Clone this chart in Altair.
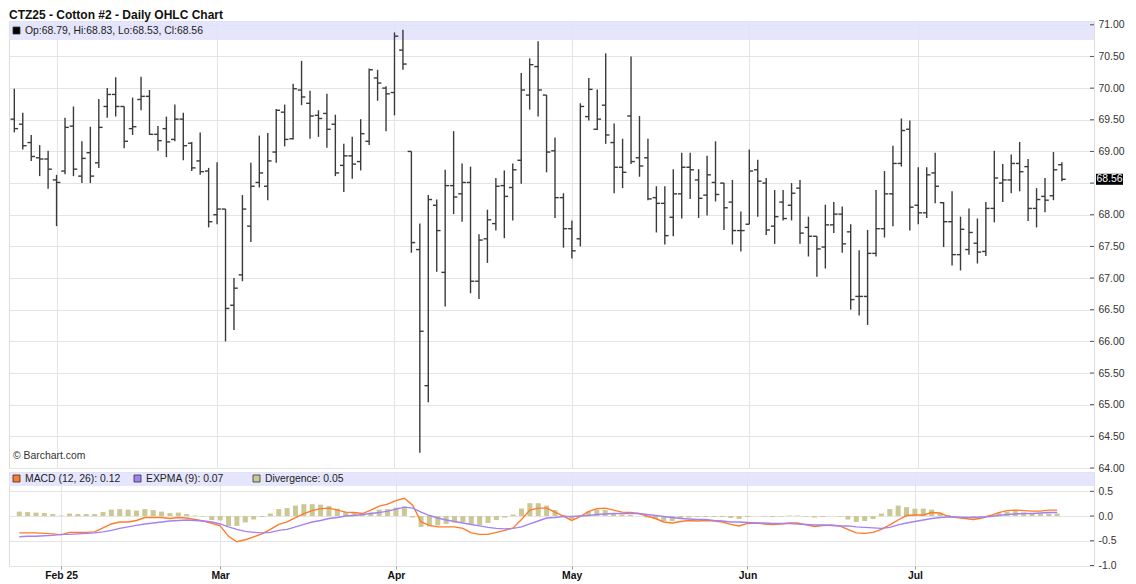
import altair as alt
import pandas as pd

FONT = "Liberation Sans"
title_text = "CTZ25 - Cotton #2 - Daily OHLC Chart"
source_text = "\u00a9 Barchart.com"

opens = [69.51, 69.43, 69.14, 68.90, 68.88, 68.55, 68.69, 69.40, 68.61, 68.98,
         68.82, 69.71, 69.90, 69.71, 69.36, 69.82, 69.87, 69.27, 69.36, 69.19,
         69.51, 69.13, 68.85, 68.69, 68.00, 68.09, 66.57, 67.05, 67.82, 68.51,
         68.45, 68.99, 69.62, 69.20, 69.97, 69.76, 69.57, 69.60, 69.43, 68.78,
         68.93, 68.84, 69.16, 70.16, 70.00, 69.93, 70.60, 69.00, 67.45, 65.30,
         68.15, 67.09, 68.46, 68.33, 68.51, 66.95, 67.62, 67.86, 68.46, 68.43,
         68.86, 69.89, 70.34, 69.89, 69.01, 68.27, 67.78, 67.62, 69.55, 69.35,
         69.73, 69.14, 68.75, 69.56, 68.90, 68.90, 68.27, 68.18, 67.96, 68.33,
         68.75, 68.55, 68.31, 68.51, 68.50, 68.20, 67.75, 67.85, 68.71, 68.50,
         67.82, 68.20, 68.15, 68.42, 67.80, 67.66, 67.49, 67.84, 68.01, 67.73,
         66.71, 66.71, 67.39, 67.78, 68.33, 68.81, 69.35, 68.15, 68.03, 68.66,
         68.19, 67.89, 67.37, 67.45, 67.55, 67.42, 68.10, 68.50, 68.55, 68.81,
         68.76, 68.10, 68.29, 68.30, 68.79]
highs = [69.99, 69.61, 69.26, 69.10, 69.01, 68.63, 69.53, 69.71, 69.16, 69.39,
         69.83, 70.00, 70.17, 69.71, 69.85, 70.18, 69.97, 69.40, 69.55, 69.74,
         69.61, 69.15, 69.30, 68.74, 68.83, 68.09, 67.00, 68.31, 68.82, 69.25,
         69.29, 69.67, 69.74, 70.07, 70.43, 69.96, 69.65, 69.91, 69.58, 69.12,
         69.23, 69.51, 70.31, 70.29, 70.03, 70.88, 70.92, 69.00, 67.86, 68.31,
         68.24, 68.71, 69.32, 68.81, 68.76, 67.69, 68.08, 68.58, 68.70, 68.81,
         70.24, 70.47, 70.74, 69.89, 69.22, 68.34, 67.91, 69.76, 70.16, 69.98,
         70.55, 69.44, 69.20, 70.50, 69.56, 69.20, 68.45, 68.45, 68.72, 68.98,
         68.98, 68.72, 68.93, 69.16, 68.50, 68.55, 68.05, 69.03, 68.87, 68.58,
         68.39, 68.39, 68.50, 68.55, 67.97, 67.66, 68.16, 68.20, 68.13, 67.85,
         67.44, 67.76, 68.39, 68.69, 69.09, 69.52, 69.49, 68.75, 68.75, 68.98,
         68.20, 68.37, 67.97, 68.10, 67.94, 68.20, 69.01, 68.80, 68.95, 69.15,
         68.88, 68.42, 68.58, 68.99, 68.83]
lows = [69.30, 69.03, 68.85, 68.61, 68.41, 67.82, 68.64, 68.61, 68.50, 68.50,
        68.74, 69.53, 69.55, 69.05, 69.26, 69.65, 69.26, 69.01, 68.91, 69.16,
        68.86, 68.69, 68.63, 67.80, 67.85, 66.00, 66.18, 66.95, 67.57, 68.43,
        68.23, 68.82, 69.08, 69.19, 69.73, 69.20, 69.23, 69.06, 68.61, 68.36,
        68.57, 68.70, 69.10, 69.80, 69.32, 69.57, 70.29, 67.40, 64.24, 65.04,
        67.10, 66.55, 68.01, 67.89, 66.76, 66.67, 67.24, 67.75, 67.63, 67.91,
        68.49, 69.66, 69.55, 68.67, 67.95, 67.48, 67.31, 67.50, 69.49, 69.34,
        69.12, 68.34, 68.42, 68.80, 68.60, 68.23, 67.72, 67.53, 67.66, 67.94,
        68.25, 67.95, 67.99, 68.21, 67.76, 67.53, 67.42, 67.85, 67.97, 67.68,
        67.54, 67.91, 67.91, 67.54, 67.34, 67.02, 67.15, 67.71, 67.40, 66.50,
        66.41, 66.26, 67.34, 67.64, 67.82, 68.76, 67.75, 67.85, 67.95, 68.18,
        67.49, 67.20, 67.12, 67.37, 67.23, 67.35, 67.88, 68.20, 68.34, 68.37,
        67.90, 67.80, 68.04, 68.23, 68.53]
closes = [69.36, 69.09, 68.92, 68.88, 68.72, 68.51, 69.38, 68.72, 68.89, 68.61,
          69.38, 69.90, 69.71, 69.16, 69.39, 69.87, 69.27, 69.17, 69.15, 69.51,
          69.09, 68.74, 68.68, 67.89, 68.09, 66.52, 66.84, 68.09, 68.45, 68.66,
          68.85, 69.65, 69.19, 69.99, 69.86, 69.56, 69.52, 69.35, 68.66, 68.93,
          68.80, 69.28, 70.29, 70.08, 69.91, 70.82, 70.38, 67.56, 66.16, 68.24,
          67.75, 68.46, 68.28, 68.51, 66.95, 67.60, 67.92, 68.45, 68.29, 68.71,
          69.97, 70.37, 69.97, 68.99, 68.27, 67.78, 67.43, 69.71, 69.98, 69.51,
          69.26, 68.75, 68.67, 68.84, 68.77, 68.25, 68.18, 67.67, 68.33, 68.75,
          68.71, 68.26, 68.63, 68.32, 68.11, 67.75, 67.75, 68.69, 68.53, 67.76,
          67.97, 67.94, 68.34, 67.71, 67.66, 67.46, 67.84, 68.01, 67.54, 66.66,
          66.71, 67.39, 67.78, 68.33, 68.81, 69.33, 68.12, 68.03, 68.63, 68.45,
          67.89, 67.37, 67.77, 67.72, 67.41, 68.10, 68.58, 68.55, 68.81, 68.68,
          68.10, 68.24, 68.23, 68.71, 68.56]

macd = [-0.34, -0.34, -0.34, -0.35, -0.36, -0.38, -0.33, -0.33, -0.33, -0.32,
        -0.24, -0.16, -0.12, -0.12, -0.09, -0.03, -0.03, -0.03, -0.05, -0.03,
        -0.04, -0.07, -0.10, -0.15, -0.20, -0.41, -0.52, -0.48, -0.42, -0.36,
        -0.27, -0.17, -0.12, -0.03, 0.05, 0.11, 0.15, 0.16, 0.12, 0.08,
        0.07, 0.05, 0.12, 0.20, 0.24, 0.31, 0.36, 0.22, -0.12, -0.19,
        -0.22, -0.22, -0.22, -0.25, -0.34, -0.37, -0.37, -0.33, -0.29, -0.24,
        -0.07, 0.12, 0.16, 0.16, 0.08, 0.00, -0.09, -0.01, 0.09, 0.15,
        0.16, 0.12, 0.08, 0.07, 0.05, 0.00, -0.05, -0.12, -0.14, -0.11,
        -0.09, -0.10, -0.09, -0.10, -0.12, -0.17, -0.20, -0.15, -0.14, -0.16,
        -0.17, -0.16, -0.14, -0.14, -0.18, -0.21, -0.19, -0.18, -0.20, -0.27,
        -0.34, -0.35, -0.33, -0.27, -0.18, -0.08, 0.01, 0.02, 0.02, 0.07,
        0.06, -0.01, -0.03, -0.05, -0.07, -0.04, 0.01, 0.07, 0.11, 0.12,
        0.11, 0.10, 0.10, 0.12, 0.12]
expma = [-0.42, -0.41, -0.41, -0.40, -0.39, -0.37, -0.37, -0.36, -0.35, -0.34,
         -0.32, -0.29, -0.25, -0.22, -0.19, -0.16, -0.14, -0.12, -0.10, -0.09,
         -0.08, -0.09, -0.10, -0.12, -0.16, -0.22, -0.27, -0.31, -0.33, -0.34,
         -0.33, -0.29, -0.27, -0.22, -0.17, -0.12, -0.09, -0.05, -0.03, 0.00,
         0.01, 0.03, 0.05, 0.07, 0.10, 0.14, 0.18, 0.16, 0.08, 0.01,
         -0.04, -0.08, -0.11, -0.14, -0.17, -0.20, -0.23, -0.25, -0.26, -0.25,
         -0.22, -0.16, -0.10, -0.04, -0.03, -0.01, -0.01, 0.00, 0.01, 0.03,
         0.04, 0.05, 0.05, 0.05, 0.05, 0.03, 0.01, -0.01, -0.03, -0.05,
         -0.06, -0.07, -0.07, -0.09, -0.10, -0.12, -0.12, -0.13, -0.14, -0.14,
         -0.15, -0.15, -0.15, -0.16, -0.17, -0.18, -0.18, -0.19, -0.20, -0.20,
         -0.22, -0.23, -0.24, -0.25, -0.23, -0.18, -0.14, -0.11, -0.08, -0.05,
         -0.03, -0.02, -0.02, -0.03, -0.03, -0.02, -0.01, 0.01, 0.03, 0.04,
         0.05, 0.05, 0.06, 0.07, 0.07]
divergence = [0.09, 0.08, 0.07, 0.06, 0.04, 0.01, 0.05, 0.04, 0.04, 0.04,
              0.08, 0.13, 0.14, 0.13, 0.11, 0.14, 0.12, 0.09, 0.06, 0.07,
              0.04, 0.01, -0.01, -0.08, -0.09, -0.20, -0.20, -0.13, -0.07, -0.02,
              0.05, 0.14, 0.16, 0.21, 0.24, 0.24, 0.23, 0.20, 0.15, 0.08,
              0.06, 0.03, 0.07, 0.13, 0.14, 0.17, 0.19, -0.03, -0.22, -0.21,
              -0.19, -0.16, -0.13, -0.12, -0.16, -0.18, -0.14, -0.08, -0.03, 0.03,
              0.15, 0.26, 0.26, 0.21, 0.12, 0.02, -0.06, 0.01, 0.09, 0.13,
              0.12, 0.06, 0.03, 0.02, 0.00, -0.03, -0.06, -0.10, -0.10, -0.06,
              -0.03, -0.02, -0.02, -0.02, -0.02, -0.04, -0.06, -0.02, 0.00, -0.01,
              -0.02, -0.01, 0.01, 0.01, -0.01, -0.03, -0.02, 0.00, -0.01, -0.07,
              -0.12, -0.10, -0.06, 0.05, 0.14, 0.21, 0.18, 0.15, 0.15, 0.13,
              0.06, 0.02, 0.00, -0.01, -0.02, -0.01, 0.02, 0.06, 0.09, 0.10,
              0.07, 0.05, 0.05, 0.05, 0.05]

month_idx = [5, 24, 45, 66, 87, 107]
month_labels = ["Feb 25", "Mar", "Apr", "May", "Jun", "Jul"]
price_ticks = [64.0, 64.5, 65.0, 65.5, 66.0, 66.5, 67.0, 67.5, 68.0, 68.5,
               69.0, 69.5, 70.0, 70.5, 71.0]
macd_ticks = [-1.0, -0.5, 0.0, 0.5]

# ---- styles / layout ----
W, H1, H2 = 1085, 447, 94
BAND1, BAND2 = 19, 14
BAR = "#3a3a3a"
GRID = "#e4e4e4"
BAND = "#e1e1fa"
ORANGE = "#ff7b29"
PURPLE = "#a282f4"
KHAKI = "#cbc895"
FRAME = "#9c9c9c"
TXT = "#222222"
FS = 10.4

n = len(opens)
df = pd.DataFrame({"i": list(range(n)), "open": opens, "high": highs, "low": lows,
                   "close": closes, "macd": macd, "expma": expma, "div": divergence})

xs = alt.Scale(domain=[-0.63, 127.8], nice=False, zero=False)
ys = alt.Scale(domain=[64.0, 71.06], nice=False, zero=False)
ym = alt.Scale(domain=[-1.01, 0.89], nice=False, zero=False)

label_expr = "''"
for idx, lab in reversed(list(zip(month_idx, month_labels))):
    label_expr = f"datum.value == {idx} ? '{lab}' : {label_expr}"

last_close = closes[-1]
price_label_expr = (f"abs(datum.value - {last_close}) < 0.2 ? '' : "
                    "format(datum.value, '.2f')")

top_xaxis = alt.Axis(values=month_idx, labels=False, ticks=False, domain=False,
                     grid=True, gridColor=GRID, title=None)
bot_xaxis = alt.Axis(values=month_idx, labelExpr=label_expr, labelFont=FONT,
                     labelFontWeight="bold", labelFontSize=FS, labelColor="#111111",
                     tickSize=3, tickColor="#999999", domain=False, grid=True,
                     gridColor=GRID, labelPadding=1, title=None)
price_axis = alt.Axis(orient="right", values=price_ticks, labelExpr=price_label_expr,
                      ticks=False, labelPadding=4, labelFont=FONT, labelFontSize=FS,
                      labelColor="#333333", grid=True, gridColor=GRID, domain=False,
                      labelOverlap=False, title=None)
macd_axis = alt.Axis(orient="right", values=macd_ticks,
                     labelExpr="replace(format(datum.value, '.1f'), '\u2212', '-')",
                     ticks=False, labelPadding=4, labelFont=FONT, labelFontSize=FS,
                     labelColor="#333333", grid=True, gridColor=GRID, domain=False,
                     labelOverlap=False, title=None)

one = pd.DataFrame({"k": [0]})


def band(h):
    return alt.Chart(one).mark_rect(color=BAND, opacity=0.85).encode(
        x=alt.value(0), x2=alt.value(W), y=alt.value(0), y2=alt.value(h))


def legend_item(x0, y0, color, label, size=7):
    src = pd.DataFrame({"t": [label]})
    sq = alt.Chart(src).mark_rect(color=color, stroke="#333333", strokeWidth=0.8).encode(
        x=alt.value(x0), x2=alt.value(x0 + size), y=alt.value(y0), y2=alt.value(y0 + size))
    tx = alt.Chart(src).mark_text(align="left", baseline="middle", font=FONT,
                                  fontSize=FS, color=TXT).encode(
        x=alt.value(x0 + size + 5), y=alt.value(y0 + size / 2 + 0.5), text="t:N")
    return [sq, tx]


def inner_ticks(values, scale, axis):
    return alt.Chart(pd.DataFrame({"v": values})).mark_rule(color="#555555").encode(
        y=alt.Y("v:Q", scale=scale, axis=axis), x=alt.value(W - 4), x2=alt.value(W))


base = alt.Chart(df)
hl = base.mark_rule(color=BAR, strokeWidth=1.4).encode(
    x=alt.X("i:Q", scale=xs, axis=top_xaxis),
    y=alt.Y("low:Q", scale=ys, axis=price_axis),
    y2="high:Q")
op = base.transform_calculate(xl="datum.i - 0.45").mark_rule(color=BAR, strokeWidth=1.4).encode(
    x=alt.X("xl:Q", scale=xs, axis=top_xaxis), x2="i:Q",
    y=alt.Y("open:Q", scale=ys, axis=price_axis))
cl = base.transform_calculate(xr="datum.i + 0.45").mark_rule(color=BAR, strokeWidth=1.4).encode(
    x=alt.X("i:Q", scale=xs, axis=top_xaxis), x2="xr:Q",
    y=alt.Y("close:Q", scale=ys, axis=price_axis))

ohlc_text = (f"Op:{opens[-1]:.2f}, Hi:{highs[-1]:.2f}, "
             f"Lo:{lows[-1]:.2f}, Cl:{closes[-1]:.2f}")
top_legend = legend_item(4, 6, "#000000", ohlc_text)

title = alt.Chart(pd.DataFrame({"t": [title_text]})).mark_text(
    align="left", baseline="alphabetic", font=FONT, fontSize=12, fontWeight="bold",
    color="#111111").encode(x=alt.value(0), y=alt.value(-2), text="t:N")
source = alt.Chart(pd.DataFrame({"t": [source_text]})).mark_text(
    align="left", baseline="middle", font=FONT, fontSize=FS, color="#333333").encode(
    x=alt.value(4), y=alt.value(H1 - 12), text="t:N")

last = pd.DataFrame({"v": [last_close], "t": [f"{last_close:.2f}"]})
box = alt.Chart(last).transform_calculate(
    hi="datum.v + 0.087", lo="datum.v - 0.087").mark_rect(color="#000000").encode(
    x=alt.value(W + 2), x2=alt.value(W + 29),
    y=alt.Y("hi:Q", scale=ys, axis=price_axis), y2="lo:Q")
box_txt = alt.Chart(last).mark_text(align="center", baseline="middle", font=FONT,
                                     fontSize=FS, color="#ffffff").encode(
    x=alt.value(W + 15.5), y=alt.Y("v:Q", scale=ys, axis=price_axis), text="t:N")

top = alt.layer(band(BAND1), inner_ticks(price_ticks, ys, price_axis), hl, op, cl,
                *top_legend, title, source, box, box_txt).properties(width=W, height=H1)

divbars = base.mark_bar(size=5, color=KHAKI).encode(
    x=alt.X("i:Q", scale=xs, axis=bot_xaxis),
    y=alt.Y("div:Q", scale=ym, axis=macd_axis),
    y2=alt.datum(0))
macd_line = base.mark_line(color=ORANGE, strokeWidth=1.4).encode(
    x=alt.X("i:Q", scale=xs, axis=bot_xaxis), y=alt.Y("macd:Q", scale=ym, axis=macd_axis))
sig_line = base.mark_line(color=PURPLE, strokeWidth=1.4).encode(
    x=alt.X("i:Q", scale=xs, axis=bot_xaxis), y=alt.Y("expma:Q", scale=ym, axis=macd_axis))

bot_legend = (legend_item(4, 3, ORANGE, f"MACD (12, 26): {macd[-1]:.2f}")
              + legend_item(125, 3, PURPLE, f"EXPMA (9): {expma[-1]:.2f}")
              + legend_item(244, 3, KHAKI, f"Divergence: {divergence[-1]:.2f}"))

bot = alt.layer(band(BAND2), inner_ticks(macd_ticks, ym, macd_axis), divbars, macd_line,
                sig_line, *bot_legend).properties(width=W, height=H2)

chart = alt.vconcat(top, bot, spacing=4, bounds="flush").properties(
    padding={"left": 0, "top": 0, "right": 0, "bottom": 0}
).configure_view(stroke=FRAME, strokeWidth=1).configure(font=FONT, background="#ffffff")

chart.save("out.html", embed_options={"renderer": "svg", "actions": False})
